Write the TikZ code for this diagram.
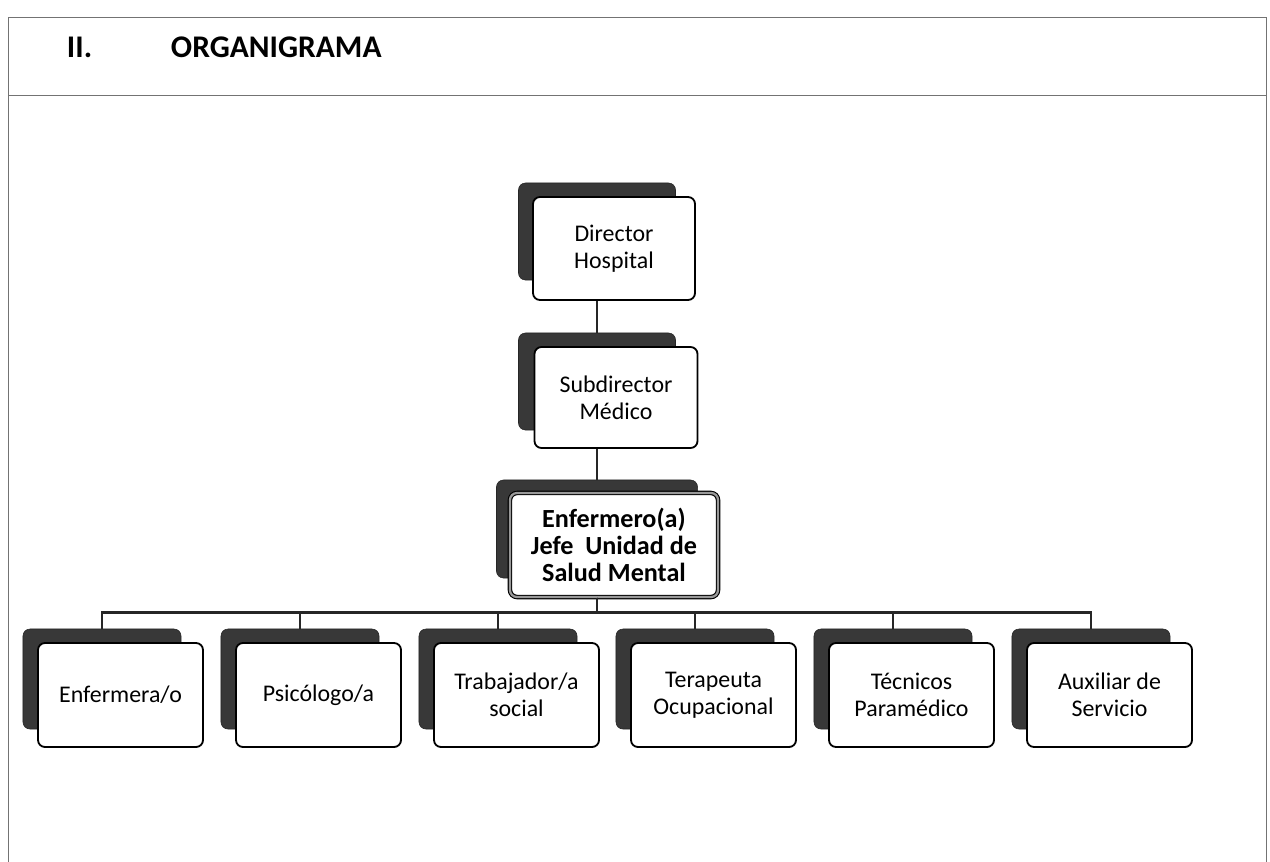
\documentclass[tikz,border=0pt]{standalone}
\usepackage{fontspec}
\setmainfont{Carlito}
\usetikzlibrary{positioning}

\tikzset{
  backcard/.style={rectangle,rounded corners=5pt,fill=black!78,draw=black!85,inner sep=0pt},
  card/.style={rectangle,rounded corners=5pt,fill=white,draw=black,line width=1.3pt,inner sep=0pt,align=center,font=\fontsize{17}{19.1}\selectfont},
  headcard/.style={card,double=black!40,double distance=1.6pt,line width=0.8pt,font=\bfseries\fontsize{18.6}{19.1}\selectfont},
  link/.style={line width=1.9pt,black!85},
  framing/.style={black!55,line width=0.7pt}
}

\begin{document}
\begin{tikzpicture}[x=0.025cm,y=-0.025cm]
\useasboundingbox (0,0) rectangle (1270,862);
\draw[framing] (8,862) -- (8,17) -- (1266,17) -- (1266,862);
\draw[framing] (8,95) -- (1266,95);
\node[font=\bfseries\fontsize{22.4}{26}\selectfont,anchor=base west] (num) at (62,57) {II.};
\node[font=\bfseries\fontsize{22.4}{26}\selectfont,anchor=base west] (title) at (166,57) {ORGANIGRAMA};

\node[backcard,minimum width=3.925cm,minimum height=2.425cm] (bk-dir) at (597,231.5) {};
\node[card,minimum width=4.05cm,minimum height=2.575cm] (dir) at (614,248.5) {Director\\Hospital};
\node[backcard,minimum width=3.925cm,minimum height=2.425cm] (bk-sub) at (597,381.5) {};
\node[card,minimum width=4.075cm,minimum height=2.525cm] (sub) at (616,397.5) {Subdirector\\Médico};
\node[backcard,minimum width=5.025cm,minimum height=2.45cm] (bk-jefe) at (597,529) {};
\node[headcard,minimum width=5.2cm,minimum height=2.6cm] (jefe) at (614,545) {Enfermero(a)\\Jefe\ \ Unidad de\\Salud Mental};

\node[backcard,minimum width=3.95cm,minimum height=2.5cm] (bk-enf) at (102,679) {};
\node[card,minimum width=4.125cm,minimum height=2.6cm] (enf) at (120.5,695) {Enfermera/o};
\node[backcard,minimum width=3.95cm,minimum height=2.5cm] (bk-psi) at (300,679) {};
\node[card,minimum width=4.125cm,minimum height=2.6cm] (psi) at (318.5,695) {Psicólogo/a};
\node[backcard,minimum width=3.95cm,minimum height=2.5cm] (bk-tra) at (498,679) {};
\node[card,minimum width=4.125cm,minimum height=2.6cm] (tra) at (516.5,695) {Trabajador/a\\social};
\node[backcard,minimum width=3.95cm,minimum height=2.5cm] (bk-ter) at (695,679) {};
\node[card,minimum width=4.125cm,minimum height=2.6cm] (ter) at (713.5,695) {Terapeuta\\Ocupacional};
\node[backcard,minimum width=3.95cm,minimum height=2.5cm] (bk-tec) at (893,679) {};
\node[card,minimum width=4.125cm,minimum height=2.6cm] (tec) at (911.5,695) {Técnicos\\Paramédico};
\node[backcard,minimum width=3.95cm,minimum height=2.5cm] (bk-aux) at (1091,679) {};
\node[card,minimum width=4.125cm,minimum height=2.6cm] (aux) at (1109.5,695) {Auxiliar de\\Servicio};

\draw[link] (dir.south -| bk-dir) -- (bk-sub.north);
\draw[link] (sub.south -| bk-sub) -- (bk-jefe.north);
\draw[link] (jefe.south -| bk-jefe) -- ++(0,15) -| (bk-enf.north);
\draw[link] (jefe.south -| bk-jefe) -- ++(0,15) -| (bk-psi.north);
\draw[link] (jefe.south -| bk-jefe) -- ++(0,15) -| (bk-tra.north);
\draw[link] (jefe.south -| bk-jefe) -- ++(0,15) -| (bk-ter.north);
\draw[link] (jefe.south -| bk-jefe) -- ++(0,15) -| (bk-tec.north);
\draw[link] (jefe.south -| bk-jefe) -- ++(0,15) -| (bk-aux.north);

\end{tikzpicture}
\end{document}
